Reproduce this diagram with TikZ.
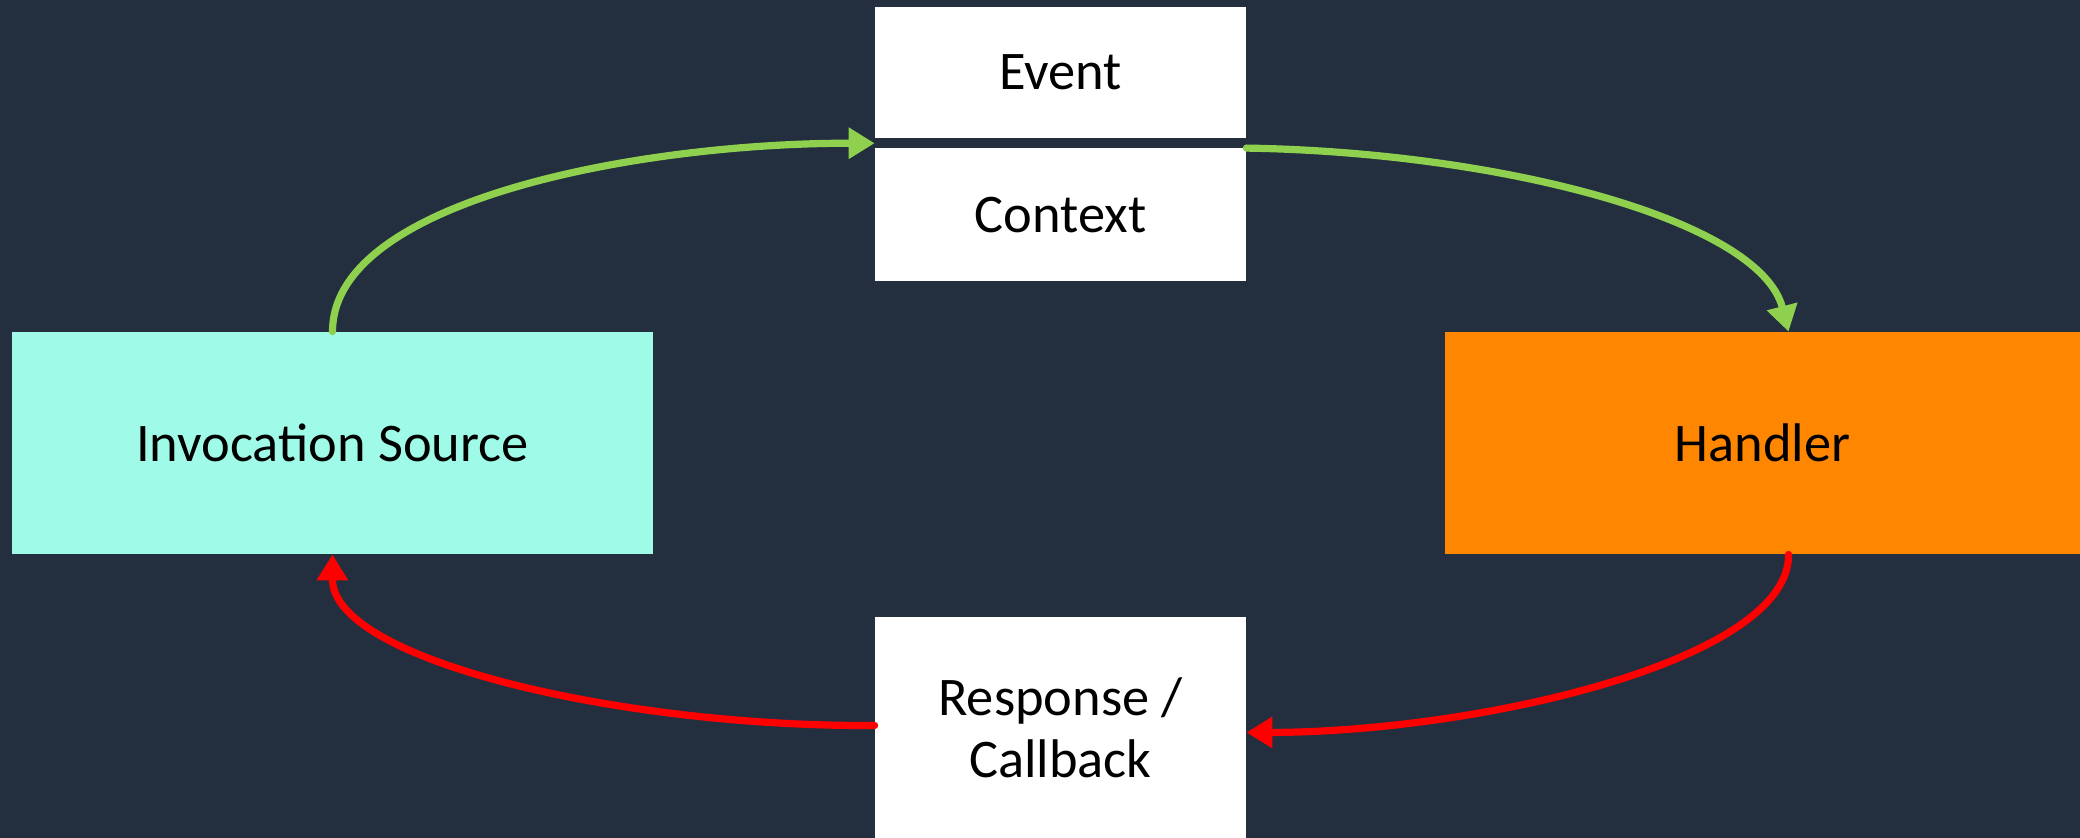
\documentclass[tikz,border=0pt]{standalone}
\usepackage{fontspec}
\setmainfont{Carlito}
\usetikzlibrary{arrows.meta,calc}
\definecolor{bgc}{HTML}{232F3E}
\definecolor{cyanbox}{HTML}{A0FAE8}
\definecolor{orangebox}{HTML}{FF8600}
\definecolor{greenarr}{HTML}{8FD14F}
\definecolor{redarr}{HTML}{FF0000}
\tikzset{
  box/.style={rectangle, draw=none, inner sep=0pt, align=center, text=black,
    font=\fontsize{27.2}{33}\selectfont},
  flow/.style={line width=3.6pt, line cap=round, -{Triangle[length=13pt,width=15pt]}},
}
\begin{document}
\begin{tikzpicture}[x=0.5pt,y=-0.5pt]
\fill[bgc] (0,0) rectangle (2080,838);
\useasboundingbox (0,0) rectangle (2080,838);
\node[box, fill=white, minimum width=185.5pt, minimum height=65.5pt] (event) at (1060.5,72.5) {Event};
\node[box, fill=white, minimum width=185.5pt, minimum height=66.5pt] (context) at (1060.5,215) {Context};
\node[box, fill=cyanbox, minimum width=320.5pt, minimum height=111pt] (inv) at (332.5,443) {Invocation Source};
\node[box, fill=orangebox, minimum width=317.5pt, minimum height=111pt] (handler) at (1762.5,443) {Handler};
\node[box, fill=white, minimum width=185.5pt, minimum height=110.5pt] (resp) at (1060.5,727.5) {Response /\\[-2pt]Callback};
\coordinate (evin) at ($(event.south west)!0.5!(context.north west)$);
\draw[flow, greenarr] (inv.north) .. controls (332.5,200) and (640,143) .. (evin);
\draw[flow, greenarr] (context.north east) .. controls (1500,152) and (1760,220) .. ([xshift=13pt]handler.north);
\draw[flow, redarr] ([xshift=13pt]handler.south) .. controls (1790,660) and (1480,732) .. ([yshift=-2.5pt]resp.east);
\draw[flow, redarr] ([yshift=1pt]resp.west) .. controls (620,727) and (332,660) .. (inv.south);
\end{tikzpicture}
\end{document}
